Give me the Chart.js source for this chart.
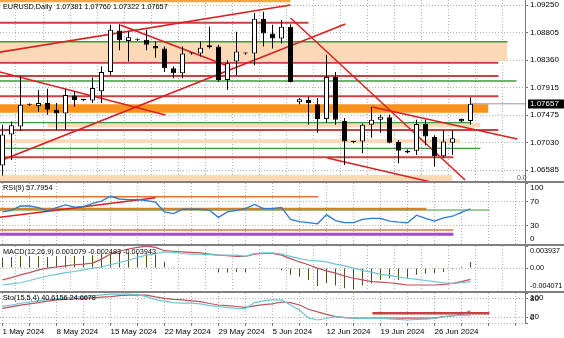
<!DOCTYPE html>
<html>
<head>
<meta charset="utf-8">
<title>EURUSD Daily</title>
<script src="https://cdn.jsdelivr.net/npm/chart.js@4.4.1/dist/chart.umd.min.js"></script>
<style>
html,body{margin:0;padding:0;background:#fff;overflow:hidden}
#box{position:relative;width:564px;height:338px}
#box canvas{position:absolute;left:0}
.sep{position:absolute;left:0;width:564px;height:2px;background:#808080}
</style>
</head>
<body>
<div id="box">
  <canvas id="mainChart" width="564" height="181" style="top:0"></canvas>
  <div class="sep" style="top:181px"></div>
  <canvas id="rsiChart" width="564" height="61" style="top:183px"></canvas>
  <div class="sep" style="top:244px"></div>
  <canvas id="macdChart" width="564" height="45" style="top:246px"></canvas>
  <div class="sep" style="top:291px"></div>
  <canvas id="stoChart" width="564" height="45" style="top:293px"></canvas>
</div>
<script>
/* EURUSD daily, MT4 style, 4 panels */
const FONT = '"Liberation Sans", Arial, sans-serif';

// one label every 6 bars (broker has sunday bars)
const dateLabels = ['1 May 2024','8 May 2024','15 May 2024','22 May 2024','29 May 2024','5 Jun 2024','12 Jun 2024','19 Jun 2024','26 Jun 2024'];
const barsPerLabel = 6;

const opens  = [1.0666,1.0716,1.0729,1.0764,1.0762,1.0767,1.0756,1.0750,1.0779,1.0772,1.0771,1.0786,1.0817,1.0884,1.0867,1.0869,1.0869,1.0859,1.0855,1.0823,1.0815,1.0847,1.0847,1.0860,1.0858,1.0804,1.0834,1.0847,1.0847,1.0903,1.0879,1.0871,1.0890,1.0768,1.0772,1.0765,1.0741,1.0809,1.0738,1.0705,1.0705,1.0732,1.0740,1.0744,1.0704,1.0687,1.0690,1.0733,1.0712,1.0681,1.0703,1.0741,1.07381];
const highs  = [1.0732,1.0737,1.0810,1.0766,1.0788,1.0790,1.0767,1.0790,1.0786,1.0774,1.0808,1.0826,1.0893,1.0894,1.0882,1.0871,1.0885,1.0866,1.0858,1.0826,1.0858,1.0849,1.0866,1.0890,1.0861,1.0836,1.0882,1.0849,1.0912,1.0914,1.0893,1.0901,1.0894,1.0775,1.0777,1.0775,1.0845,1.0817,1.0743,1.0706,1.0734,1.0761,1.0748,1.0748,1.0707,1.0692,1.0740,1.0740,1.0715,1.0723,1.0723,1.0742,1.07760];
const lows   = [1.0650,1.0675,1.0722,1.0762,1.0753,1.0748,1.0723,1.0724,1.0761,1.0770,1.0767,1.0767,1.0812,1.0852,1.0834,1.0867,1.0852,1.0840,1.0817,1.0807,1.0807,1.0845,1.0842,1.0855,1.0801,1.0788,1.0812,1.0845,1.0828,1.0858,1.0855,1.0863,1.0800,1.0765,1.0732,1.0719,1.0735,1.0732,1.0667,1.0702,1.0686,1.0711,1.0719,1.0702,1.0670,1.0686,1.0683,1.0699,1.0664,1.0679,1.0683,1.0736,1.07322];
const closes = [1.0716,1.0731,1.0764,1.0764,1.0767,1.0756,1.0750,1.0780,1.0772,1.0772,1.0791,1.0817,1.0885,1.0868,1.0873,1.0869,1.0861,1.0855,1.0823,1.0815,1.0847,1.0847,1.0856,1.0857,1.0804,1.0831,1.0850,1.0847,1.0903,1.0879,1.0871,1.0890,1.0801,1.0773,1.0767,1.0741,1.0809,1.0740,1.0705,1.0704,1.0732,1.0740,1.0745,1.0703,1.0690,1.0690,1.0733,1.0713,1.0681,1.0705,1.0710,1.0737,1.07657];

const priceTicks = [1.09250,1.08805,1.08360,1.07915,1.07475,1.07030,1.06585];
const priceMin = 1.06412, priceMax = 1.09331;
const lastPrice = 1.07657;

// chart objects on the main window (prices, bar index where they stop)
const goldLevel = 1.09315, goldEnd = 32;
const redLevels = [1.08965,1.08320,1.08105,1.07778,1.07235,1.06794];
const redEnds   = [34,55.1,55.1,55.1,55.1,50.1];
const greenLevels = [1.08658,1.08025,1.07355,1.06939];
const greenEnds   = [56.1,57.1,52,53.1];
const peachTops    = [1.08658,1.07347,1.07085,1.06509];
const peachBottoms = [1.08347,1.07275,1.07020,1.06350];
const peachStarts  = [-1,5,-1,-1];
const peachEnds    = [56.1,53.1,50.9,50];
const orangeTop = 1.07650, orangeBottom = 1.07513, orangeEnd = 54;
// [bar1, price1, bar2, price2]
const trendLines = [
  [-0.3,1.08490,32,1.09250],
  [13.1,1.08928,25.3,1.08250],
  [-0.3,1.08170,18.1,1.07476],
  [-0.3,1.06735,38.1,1.08944],
  [32,1.09040,51.4,1.06428],
  [41.1,1.07605,57.2,1.07089],
  [36.1,1.06783,47.6,1.06396]
];

const rsi = [52.6,55.2,62.3,62.3,59.7,54.4,59.7,64.1,60.6,61.4,66.7,70.3,78.2,73.8,72.9,72.9,71.2,68.5,52.6,49.9,57,57,57,55.2,43.7,52.6,55.2,57.9,65,57.9,57.9,60,40.2,36.7,34.9,33.1,48.2,38.4,34.9,34.9,40.2,42,42,37.5,35.8,34.9,47.3,42,37.5,42.8,45.5,51.7,57.8];
const rsiTicks = [0,30,70,100];
const rsiLevels = [77.5,55.7,57.4,23,15.9];
const rsiLevelEnds = [35.1,54.1,47.1,50.1,50.1];
const rsiTrend = [-0.3,43.8,17,75.9];

const macdHist = [0.0019,0.0020,0.0021,0.0021,0.0021,0.0020,0.0021,0.0022,0.0022,0.0022,0.0023,0.0025,0.0027,0.0028,0.0028,0.0027,0.0026,0.0024,0.0011,0.0002,0.0001,0,0,0,-0.0008,-0.0008,-0.0007,-0.0008,0.0001,0.0001,0.0001,-0.0004,-0.0012,-0.0015,-0.0021,-0.0032,-0.0027,-0.0031,-0.0036,-0.0038,-0.0031,-0.0027,-0.0021,-0.0018,-0.0021,-0.0018,-0.0012,-0.0010,-0.0009,-0.0007,-0.0002,0.0003,0.001079];
const macdRed  = [-0.0021,-0.0017,-0.0012,-0.0008,-0.0003,0,0.0002,0.0004,0.0006,0.0007,0.0009,0.0016,0.0025,0.0030,0.0034,0.0037,0.0039,0.0037,0.0031,0.0030,0.0029,0.0028,0.0027,0.0025,0.0023,0.0022,0.0021,0.0021,0.0025,0.0026,0.0026,0.0023,0.0017,0.0011,0.0006,0,-0.0005,-0.0009,-0.0014,-0.0018,-0.0021,-0.0024,-0.0025,-0.0026,-0.0028,-0.0030,-0.0030,-0.0030,-0.0030,-0.0029,-0.0027,-0.0024,-0.0020];
const macdCyan = [-0.0030,-0.0028,-0.0026,-0.0022,-0.0018,-0.0014,-0.0011,-0.0008,-0.0006,-0.0003,0,0.0002,0.0006,0.0010,0.0014,0.0019,0.0023,0.0026,0.0029,0.0028,0.0026,0.0025,0.0025,0.0024,0.0023,0.0023,0.0023,0.0021,0.0026,0.0027,0.0027,0.0025,0.0021,0.0017,0.0014,0.0013,0.0011,0.0007,0.0004,0,-0.0004,-0.0007,-0.0011,-0.0013,-0.0016,-0.0018,-0.0020,-0.0022,-0.0024,-0.0026,-0.0027,-0.0026,-0.0024];
const macdTicks = [-0.004071,0,0.003937];

const stoRed  = [48.5,53.6,59.7,63.8,67.8,73,77,79,80,82,84,86,88,91,93,93,93,87,82,79,77,74,71,65,60,58,55,52,57,61,64,70,68,60,46,37,29,21,18,16,16,16,16,16,16,16,16,16,16,21,24,28,40.6];
const stoCyan = [55.6,59.7,65.8,70,74,78,81,84,86,88,90,94,96,96,96,95,88,78,73,68,66,66,64,58,55,51,49,48,68,74,77,77,60,43,17,10,15,21,19,16,15,15,15,14,12,10,12,13,15,21,24,26,24.7];
const stoTicks = [0,20,80,100];
const stoLevel = 32.3, stoLevelFrom = 41.1, stoLevelTo = 54.1;

// colours
const RED_H = '#c84040', RED_T = '#dc1e1e', GREEN = '#3f9a3f', PEACH = '#fcd9b6', ORANGE = '#f7931e', GOLD = '#f5aa35';
const GRID = '#b4b4b4';
const X_MIN = -2.5/9, X_MAX = X_MIN + 525/9;

function hline(from, to, v, color, width, order){
  return {type:'line', data:[{x:from,y:v},{x:to,y:v}], borderColor:color, borderWidth:width, pointRadius:0, order:order};
}
function band(from, to, top, bottom, color){
  return {type:'line', data:[{x:from,y:top},{x:to,y:top}], borderWidth:0, borderColor:'rgba(0,0,0,0)', backgroundColor:color, fill:{value:bottom}, pointRadius:0, order:20};
}
function seg(t, color, width, order){
  return {type:'line', data:[{x:t[0],y:t[1]},{x:t[2],y:t[3]}], borderColor:color, borderWidth:width, pointRadius:0, order:order};
}
function series(vals, color, width, order){
  return {type:'line', data:vals.map((v,i)=>({x:i,y:v})), borderColor:color, borderWidth:width, pointRadius:0, order:order};
}

function xScale(showDates){
  return {
    type:'linear', min:X_MIN, max:X_MAX, offset:false,
    afterBuildTicks: s => { const t = []; for(let i=0;i<=57;i+=3) t.push({value:i}); s.ticks = t; },
    afterFit: s => { s.height = showDates ? 15 : 0; },
    grid:{color:GRID, lineWidth:1, drawTicks:showDates, tickLength:3, tickColor:'#777'},
    border:{display:false, dash:[1,2]},
    ticks:{display:showDates, autoSkip:false, maxRotation:0, minRotation:0, align:'start', padding:1, color:'#000',
      font:{family:FONT, size:8},
      callback: v => (v % barsPerLabel === 0 && dateLabels[v/barsPerLabel]) || ''}
  };
}
function yScale(min, max, ticks, gridAt){
  return {
    position:'right', min:min, max:max,
    afterBuildTicks: s => { s.ticks = ticks.map(v=>({value:v})); },
    afterFit: s => { s.width = 39; },
    ticks:{display:false},
    grid:{color: c => (c.tick && gridAt(c.tick.value)) ? GRID : 'rgba(0,0,0,0)', drawTicks:true, tickLength:3, tickColor:'#777'},
    border:{display:true, color:'#777', width:1, dash:[1,2]}
  };
}

function panelText(title, titleY, fmt, labelSize, extra){
  return {
    id:'panelText',
    afterDraw(chart){
      const ctx = chart.ctx, a = chart.chartArea, s = chart.scales.y;
      ctx.save();
      ctx.textBaseline = 'middle'; ctx.textAlign = 'left'; ctx.fillStyle = '#000';
      ctx.font = '7.3px ' + FONT;
      ctx.fillText(title, a.left + 3, a.top + titleY);
      ctx.font = labelSize + 'px ' + FONT;
      s.ticks.forEach(t => {
        const y = Math.min(Math.max(s.getPixelForValue(t.value), a.top + 5), a.bottom - 5);
        ctx.fillText(fmt(t.value), a.right + 5, y);
      });
      if(extra) extra(ctx, a, s);
      ctx.restore();
    }
  };
}

function makeChart(id, datasets, yOpts, showDates, plugin){
  return new Chart(document.getElementById(id), {
    type:'line',
    data:{datasets:datasets},
    options:{
      responsive:false, animation:false, devicePixelRatio:1, events:[],
      layout:{padding:0, autoPadding:false},
      plugins:{legend:{display:false}, tooltip:{enabled:false}},
      scales:{x:xScale(showDates), y:yOpts}
    },
    plugins:[plugin]
  });
}

// ---- main window
const idx = closes.map((c,i)=>i);
const mainSets = [];
peachTops.forEach((t,k)=>mainSets.push(band(peachStarts[k], peachEnds[k], t, peachBottoms[k], PEACH)));
mainSets.push(band(-1, orangeEnd, orangeTop, orangeBottom, ORANGE));
mainSets.push(hline(-1, goldEnd, goldLevel, GOLD, 2.5, 9));
redLevels.forEach((v,k)=>mainSets.push(hline(-1, redEnds[k], v, RED_H, 2, 8)));
greenLevels.forEach((v,k)=>mainSets.push(hline(-1, greenEnds[k], v, GREEN, 1.3, 8)));
trendLines.forEach(t=>mainSets.push(seg(t, RED_T, 1.5, 7)));
mainSets.push(hline(52, 60, lastPrice, '#999', 1, 6));
mainSets.push({type:'bar', data:idx.map(i=>({x:i,y:[lows[i],highs[i]]})), backgroundColor:'#000', borderWidth:0,
  barThickness:1, grouped:false, inflateAmount:0, order:2});
mainSets.push({type:'bar', data:idx.map(i=>({x:i,y:[opens[i],closes[i]]})),
  backgroundColor:idx.map(i=>closes[i]>=opens[i]?'#fff':'#000'), borderColor:'#000', borderWidth:1, borderSkipped:false,
  barThickness:5, minBarLength:1, grouped:false, inflateAmount:0, order:1});

makeChart('mainChart', mainSets, yScale(priceMin, priceMax, priceTicks, ()=>true), false,
  panelText('EURUSD,Daily  1.07381 1.07760 1.07322 1.07657', 6.5, v=>v.toFixed(5), 8, (ctx,a,s)=>{
    const y = s.getPixelForValue(lastPrice);
    ctx.fillStyle = '#000'; ctx.fillRect(a.right + 3, Math.round(y) - 4.5, 36, 9);
    ctx.fillStyle = '#fff'; ctx.fillText(lastPrice.toFixed(5), a.right + 5, y);
    ctx.fillStyle = '#555'; ctx.font = '7px ' + FONT; ctx.fillText('0.0', a.right - 8, a.bottom - 3);
  }));

// ---- RSI
const rsiColors = ['#d9733a', GREEN, '#d5802c', '#e39a6c', '#a24cc8'];
const rsiWidths = [1.5, 1.2, 2.5, 2, 3];
const rsiSets = rsiLevels.map((v,k)=>hline(-1, rsiLevelEnds[k], v, rsiColors[k], rsiWidths[k], 8 - k));
rsiSets.push(seg(rsiTrend, RED_T, 1.5, 2));
rsiSets.push(series(rsi, '#2b7bd0', 1.3, 1));
makeChart('rsiChart', rsiSets, yScale(0, 100, rsiTicks, v=>v===30||v===70), false,
  panelText('RSI(9) 57.7954', 5.3, v=>String(v), 8));

// ---- MACD
const macdSets = [
  {type:'bar', data:idx.map(i=>({x:i,y:macdHist[i]})), backgroundColor:'#4f4f18', borderWidth:0, barThickness:1, grouped:false, inflateAmount:0, order:3},
  series(macdRed, '#c0505a', 1.2, 2),
  series(macdCyan, '#6cc5d5', 1.2, 1)
];
makeChart('macdChart', macdSets, yScale(macdTicks[0], macdTicks[2], macdTicks, v=>v===0), false,
  panelText('MACD(12,26,9) 0.001079 -0.002483 -0.003943', 5.7, v=>v===0?'0.00':v.toFixed(6), 7.2));

// ---- Stochastic
const stoSets = [
  hline(stoLevelFrom, stoLevelTo, stoLevel, RED_H, 2.5, 3),
  series(stoRed, '#c0505a', 1.2, 2),
  series(stoCyan, '#6cc5d5', 1.2, 1)
];
makeChart('stoChart', stoSets, yScale(0, 100, stoTicks, v=>v===20||v===80||v===0), true,
  panelText('Sto(15,5,4) 40.6156 24.6678', 5, v=>String(v), 8));
</script>
</body>
</html>
